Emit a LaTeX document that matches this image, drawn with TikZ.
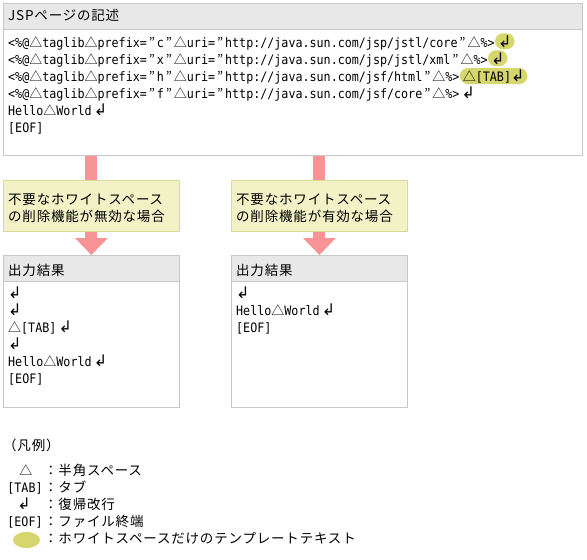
\documentclass[tikz,border=0pt]{standalone}
\usepackage{fontspec}
\setmainfont{Noto Sans CJK JP}
\newfontfamily\jpfont[LetterSpace=6]{Noto Sans CJK JP}
\newfontfamily\jpplain{Noto Sans CJK JP}
\newfontfamily\codefont[FakeStretch=0.9]{DejaVu Sans Mono}
\newfontfamily\symfont{DejaVu Sans}
\usetikzlibrary{shapes.geometric, positioning, backgrounds, arrows.meta}
\usepackage{xcolor}

\definecolor{framegray}{RGB}{200,200,200}
\definecolor{headgray}{RGB}{232,232,232}
\definecolor{noteyellow}{RGB}{242,242,198}
\definecolor{noteborder}{RGB}{218,218,150}
\definecolor{flowpink}{RGB}{249,148,150}
\definecolor{wsmark}{RGB}{214,214,110}

\newcommand{\tri}{\makebox[13pt][c]{\jpplain △}}
\newcommand{\dq}{\makebox[10pt][c]{\jpplain ”}}
\newcommand{\crlf}{{\symfont\fontsize{16}{17}\selectfont ↲}}

\begin{document}
\begin{tikzpicture}[x=1pt, y=-1pt,
    frame/.style={draw=framegray, fill=white, line width=0.8pt, inner sep=0pt, anchor=north west},
    headbar/.style={frame, fill=headgray, minimum height=26pt},
    headtext/.style={font=\jpfont\fontsize{13.5}{17}\selectfont, anchor=base west, inner sep=0pt},
    codeline/.style={font=\codefont\fontsize{13}{17}\selectfont, anchor=base west, inner sep=0pt},
    wshl/.style={codeline, fill=wsmark, rounded corners=8pt, inner xsep=3pt, minimum height=16pt},
    note/.style={draw=noteborder, fill=noteyellow, line width=0.8pt, anchor=north west,
      minimum width=176pt, minimum height=51pt, inner sep=0pt},
    flow/.style={draw=flowpink, line width=12pt, -{Triangle[line width=0pt, width=33pt, length=17pt]}}]
  \useasboundingbox (0,0) rectangle (587,560);

  % source page
  \node[frame, minimum width=579pt, minimum height=152pt] (src) at (3,3) {};
  \node[headbar, minimum width=579pt] (srchead) at (src.north west) {};
  \node[headtext] (srctitle) at (8,20) {JSPページの記述};
  \node[codeline] (s1) at (8,47) {<\%@\tri taglib\tri prefix=\dq c\dq\tri uri=\dq http://java.sun.com/jsp/jstl/core\dq\tri\%>};
  \node[wshl, anchor=base west] (s1ws) at (s1.base east) {\crlf};
  \node[codeline] (s2) at (8,64) {<\%@\tri taglib\tri prefix=\dq x\dq\tri uri=\dq http://java.sun.com/jsp/jstl/xml\dq\tri\%>};
  \node[wshl, anchor=base west] (s2ws) at (s2.base east) {\crlf};
  \node[codeline] (s3) at (8,81) {<\%@\tri taglib\tri prefix=\dq h\dq\tri uri=\dq http://java.sun.com/jsf/html\dq\tri\%>};
  \node[wshl, anchor=base west] (s3ws) at (s3.base east) {\tri[TAB]\crlf};
  \node[codeline] (s4) at (8,98) {<\%@\tri taglib\tri prefix=\dq f\dq\tri uri=\dq http://java.sun.com/jsf/core\dq\tri\%>\,\crlf};
  \node[codeline] (s5) at (8,115) {Hello\tri World\,\crlf};
  \node[codeline] (s6) at (8,132) {[EOF]};

  % conditions
  \node[note] (condL) at (3,180) {};
  \node[headtext] (condLa) at (8,204) {不要なホワイトスペース};
  \node[headtext] (condLb) at (8,221) {の削除機能が無効な場合};
  \node[note] (condR) at (231,180) {};
  \node[headtext] (condRa) at (236,204) {不要なホワイトスペース};
  \node[headtext] (condRb) at (236,221) {の削除機能が有効な場合};

  % output, disabled
  \node[frame, minimum width=176pt, minimum height=152pt] (outL) at (3,255) {};
  \node[headbar, minimum width=176pt] (outLhead) at (outL.north west) {};
  \node[headtext] (outLtitle) at (8,275) {出力結果};
  \node[codeline] (l1) at (8,298) {\crlf};
  \node[codeline] (l2) at (8,315) {\crlf};
  \node[codeline] (l3) at (8,332) {\tri[TAB]\,\crlf};
  \node[codeline] (l4) at (8,349) {\crlf};
  \node[codeline] (l5) at (8,366) {Hello\tri World\,\crlf};
  \node[codeline] (l6) at (8,383) {[EOF]};

  % output, enabled
  \node[frame, minimum width=176pt, minimum height=152pt] (outR) at (231,255) {};
  \node[headbar, minimum width=176pt] (outRhead) at (outR.north west) {};
  \node[headtext] (outRtitle) at (236,275) {出力結果};
  \node[codeline] (r1) at (236,298) {\crlf};
  \node[codeline] (r2) at (236,315) {Hello\tri World\,\crlf};
  \node[codeline] (r3) at (236,332) {[EOF]};

  \begin{scope}[on background layer]
    \draw[flow] (src.south -| condL.north) -- (outL.north);
    \draw[flow] (src.south -| condR.north) -- (outR.north);
  \end{scope}

  % legend
  \node[headtext] (legtitle) at (3,450) {（凡例）};
  \node[codeline, anchor=base] (kspc) at (26,475) {\tri};
  \node[codeline, anchor=base] (ktab) at (25,492) {[TAB]};
  \node[codeline, anchor=base] (kret) at (24,509) {\crlf};
  \node[codeline, anchor=base] (keof) at (25,526) {[EOF]};
  \node[ellipse, fill=wsmark, inner sep=0pt, minimum width=27pt, minimum height=16pt] (kws) at (26.5,540) {};
  \node[headtext] (dspc) at (44,475) {：半角スペース};
  \node[headtext] (dtab) at (44,492) {：タブ};
  \node[headtext] (dret) at (44,509) {：復帰改行};
  \node[headtext] (deof) at (44,526) {：ファイル終端};
  \node[headtext] (dws) at (44,543) {：ホワイトスペースだけのテンプレートテキスト};
\end{tikzpicture}
\end{document}
